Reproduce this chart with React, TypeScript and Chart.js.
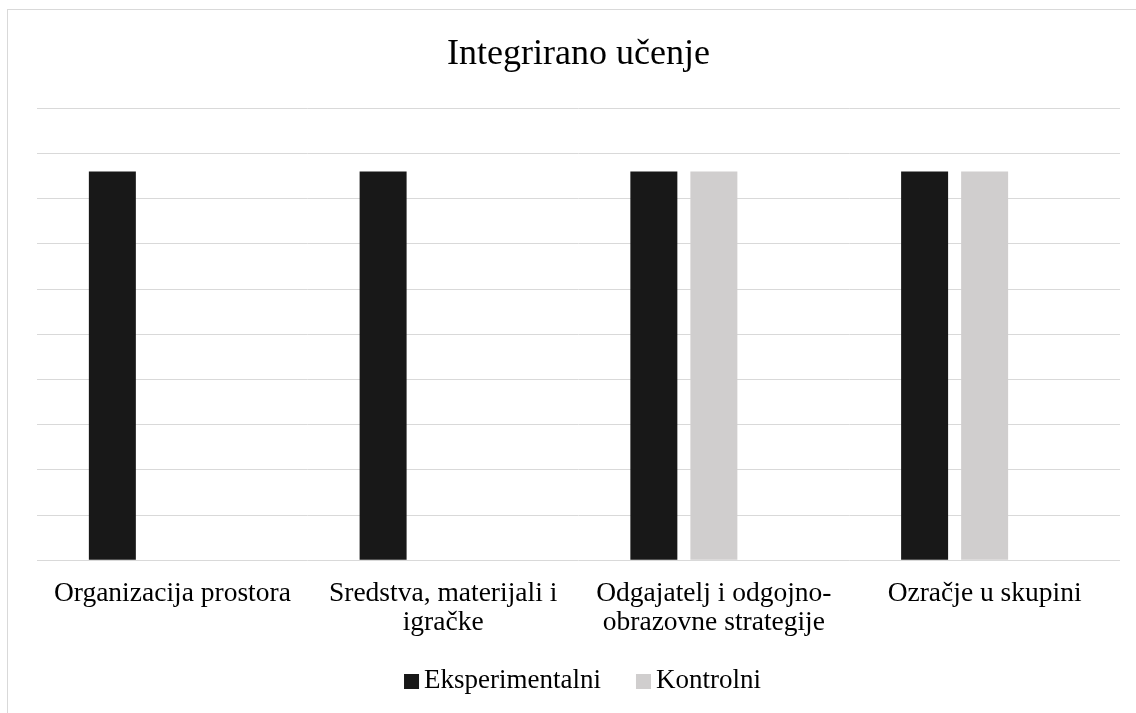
import React, { useEffect, useRef } from "react";
import { Chart, registerables } from "chart.js";

Chart.register(...registerables);

const FONT = '"Liberation Serif", "Times New Roman", serif';

const chartTitle = "Integrirano učenje";
const categories: string[][] = [
  ["Organizacija prostora"],
  ["Sredstva, materijali i", "igračke"],
  ["Odgajatelj i odgojno-", "obrazovne strategije"],
  ["Ozračje u skupini"],
];
const seriesNames = ["Eksperimentalni", "Kontrolni"];
const eksperimentalni = [4.3, 4.3, 4.3, 4.3];
const kontrolni: (number | null)[] = [null, null, 4.3, 4.3];
const emptySeries: (number | null)[] = [null, null, null, null];
const seriesColors = ["#181818", "#d0cece"];
const yMin = 0;
const yMax = 5;
const yStep = 0.5;

const legendPlugin = {
  id: "customLegend",
  afterDraw(chart: any) {
    const ctx = chart.ctx as CanvasRenderingContext2D;
    ctx.save();
    ctx.font = `27px ${FONT}`;
    ctx.textBaseline = "alphabetic";
    ctx.textAlign = "left";
    const box = 15;
    const gap = 5;
    const itemGap = 35;
    const items = chart.data.datasets
      .filter((d: any) => d.label)
      .map((d: any) => ({ text: d.label, color: d.backgroundColor, w: ctx.measureText(d.label).width }));
    const total =
      items.reduce((s: number, it: any) => s + box + gap + it.w, 0) + itemGap * (items.length - 1);
    let x = (chart.chartArea.left + chart.chartArea.right) / 2 - total / 2 + 4;
    const baseline = chart.height - 25;
    for (const it of items) {
      ctx.fillStyle = it.color;
      ctx.fillRect(x, baseline - 14, box, box);
      ctx.fillStyle = "#000000";
      ctx.fillText(it.text, x + box + gap, baseline);
      x += box + gap + it.w + itemGap;
    }
    ctx.restore();
  },
};

export default function App() {
  const ref = useRef<HTMLCanvasElement | null>(null);

  useEffect(() => {
    if (!ref.current) return;
    const chart = new Chart(ref.current, {
      type: "bar",
      data: {
        labels: categories,
        datasets: [
          { label: seriesNames[0], data: eksperimentalni, backgroundColor: seriesColors[0] },
          { label: seriesNames[1], data: kontrolni, backgroundColor: seriesColors[1] },
          { label: "", data: emptySeries, backgroundColor: "#ffffff" },
        ],
      },
      options: {
        responsive: false,
        animation: false,
        devicePixelRatio: 1,
        layout: { padding: { left: 29, right: 30, top: 0, bottom: 57 } },
        datasets: {
          bar: { categoryPercentage: 0.665, barPercentage: 0.783 },
        },
        plugins: {
          legend: { display: false },
          tooltip: { enabled: false },
          title: {
            display: true,
            text: chartTitle,
            color: "#000000",
            font: { family: FONT, size: 36, weight: "normal", lineHeight: 1.2 },
            padding: { top: 23, bottom: 32 },
          },
        },
        scales: {
          x: {
            grid: { display: false, drawTicks: false },
            border: { display: false },
            ticks: {
              color: "#000000",
              font: { family: FONT, size: 27.5, lineHeight: 1.05 },
              padding: 19,
              maxRotation: 0,
              minRotation: 0,
              autoSkip: false,
            },
          },
          y: {
            min: yMin,
            max: yMax,
            grid: { color: "#d9d9d9", lineWidth: 1, drawTicks: false },
            border: { display: false },
            ticks: { display: false, stepSize: yStep },
          },
        },
      },
      plugins: [legendPlugin],
    });
    return () => chart.destroy();
  }, []);

  return (
    <div
      style={{
        position: "fixed",
        left: 7,
        top: 9,
        width: 1129,
        height: 704,
        borderLeft: "1px solid #d9d9d9",
        borderTop: "1px solid #d9d9d9",
        overflow: "hidden",
        background: "#ffffff",
      }}
    >
      <canvas ref={ref} width={1142} height={703} style={{ display: "block" }} />
    </div>
  );
}
